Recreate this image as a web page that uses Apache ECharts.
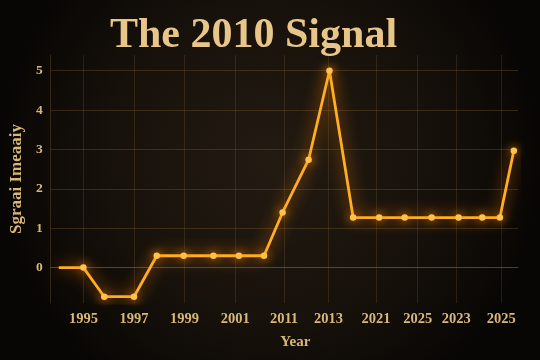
<!DOCTYPE html>
<html><head><meta charset="utf-8">
<script src="https://cdn.jsdelivr.net/npm/echarts@6/dist/echarts.min.js"></script>
<style>html,body{margin:0;padding:0;background:#0d0906;}#c{width:540px;height:360px;}</style>
</head><body><div id="c"></div>
<script>
// tick label slots (positions on the year scale) and their labels
const tickPos = [1, 2.09, 3.18, 4.27, 5.32, 6.28, 7.30, 8.20, 9.03, 10.0];
const tickLabels = ['1995','1997','1999','2001','2011','2013','2021','2025','2023','2025'];
// series points: position on the year scale and signal intensity
const pointPos = [0.47, 1.0, 1.45, 2.09, 2.58, 3.16, 3.80, 4.35, 4.89, 5.29, 5.85, 6.30, 6.81, 7.37, 7.92, 8.50, 9.08, 9.59, 9.97, 10.27];
const signal   = [0, 0, -0.74, -0.74, 0.30, 0.30, 0.30, 0.30, 0.30, 1.40, 2.74, 5.0, 1.27, 1.27, 1.27, 1.27, 1.27, 1.27, 1.27, 2.97];
const yTicks = [0, 1, 2, 3, 4, 5];

const chart = echarts.init(document.getElementById('c'), null, {renderer: 'canvas'});
const data = pointPos.map((x, i) => {
  const d = {value: [x, signal[i]]};
  if (i === 0) d.symbol = 'none';
  return d;
});
const labelFont = {color: '#d8b878', fontFamily: 'Liberation Serif', fontWeight: 'bold', fontSize: 14.5};
chart.setOption({
  backgroundColor: {
    type: 'radial', x: 0.5, y: 0.45, r: 0.75,
    colorStops: [{offset: 0, color: '#231b12'}, {offset: 0.6, color: '#17110b'}, {offset: 1, color: '#080604'}]
  },
  title: {
    text: 'The 2010 Signal', left: 105, top: 10,
    textStyle: {color: '#e8c68a', fontFamily: 'Liberation Serif', fontWeight: 'bold', fontSize: 42}
  },
  grid: {left: 47, right: 22, top: 55, bottom: 57},
  xAxis: {
    type: 'value', min: 0.295, max: 10.36,
    name: 'Year', nameLocation: 'middle', nameGap: 32,
    nameTextStyle: {color: '#d8b878', fontFamily: 'Liberation Serif', fontWeight: 'bold', fontSize: 15, padding: [0, 0, 0, 22]},
    axisLine: {show: true, lineStyle: {color: 'rgba(130,95,50,0.45)', width: 1}},
    axisTick: {show: false, customValues: tickPos},
    axisLabel: Object.assign({
      customValues: tickPos, margin: 9,
      formatter: v => { const i = tickPos.findIndex(t => Math.abs(t - v) < 1e-6); return i >= 0 ? tickLabels[i] : ''; }
    }, labelFont),
    splitLine: {show: true, lineStyle: {color: 'rgba(120,90,55,0.28)', width: 1}}
  },
  yAxis: {
    type: 'value', min: -0.9, max: 5.4,
    name: 'Sgraai Imeaaiy', nameLocation: 'middle', nameGap: 17, nameRotate: 90,
    nameTextStyle: {color: '#d8b878', fontFamily: 'Liberation Serif', fontWeight: 'bold', fontSize: 17},
    axisLine: {show: true, lineStyle: {color: 'rgba(130,95,50,0.35)', width: 1}},
    axisTick: {show: false, customValues: yTicks},
    axisLabel: Object.assign({customValues: yTicks, margin: 8}, labelFont, {fontSize: 13.5}),
    splitLine: {show: true, lineStyle: {color: 'rgba(130,95,55,0.35)', width: 1}}
  },
  series: [{
    type: 'line', data: data,
    symbol: 'circle', symbolSize: 6.5, showAllSymbol: true,
    itemStyle: {color: '#ffc24e', shadowColor: '#ff8a00', shadowBlur: 10},
    lineStyle: {color: '#ffae22', width: 2.8, shadowColor: '#ff8000', shadowBlur: 16},
    animation: false, z: 5
  }]
});
</script></body></html>
